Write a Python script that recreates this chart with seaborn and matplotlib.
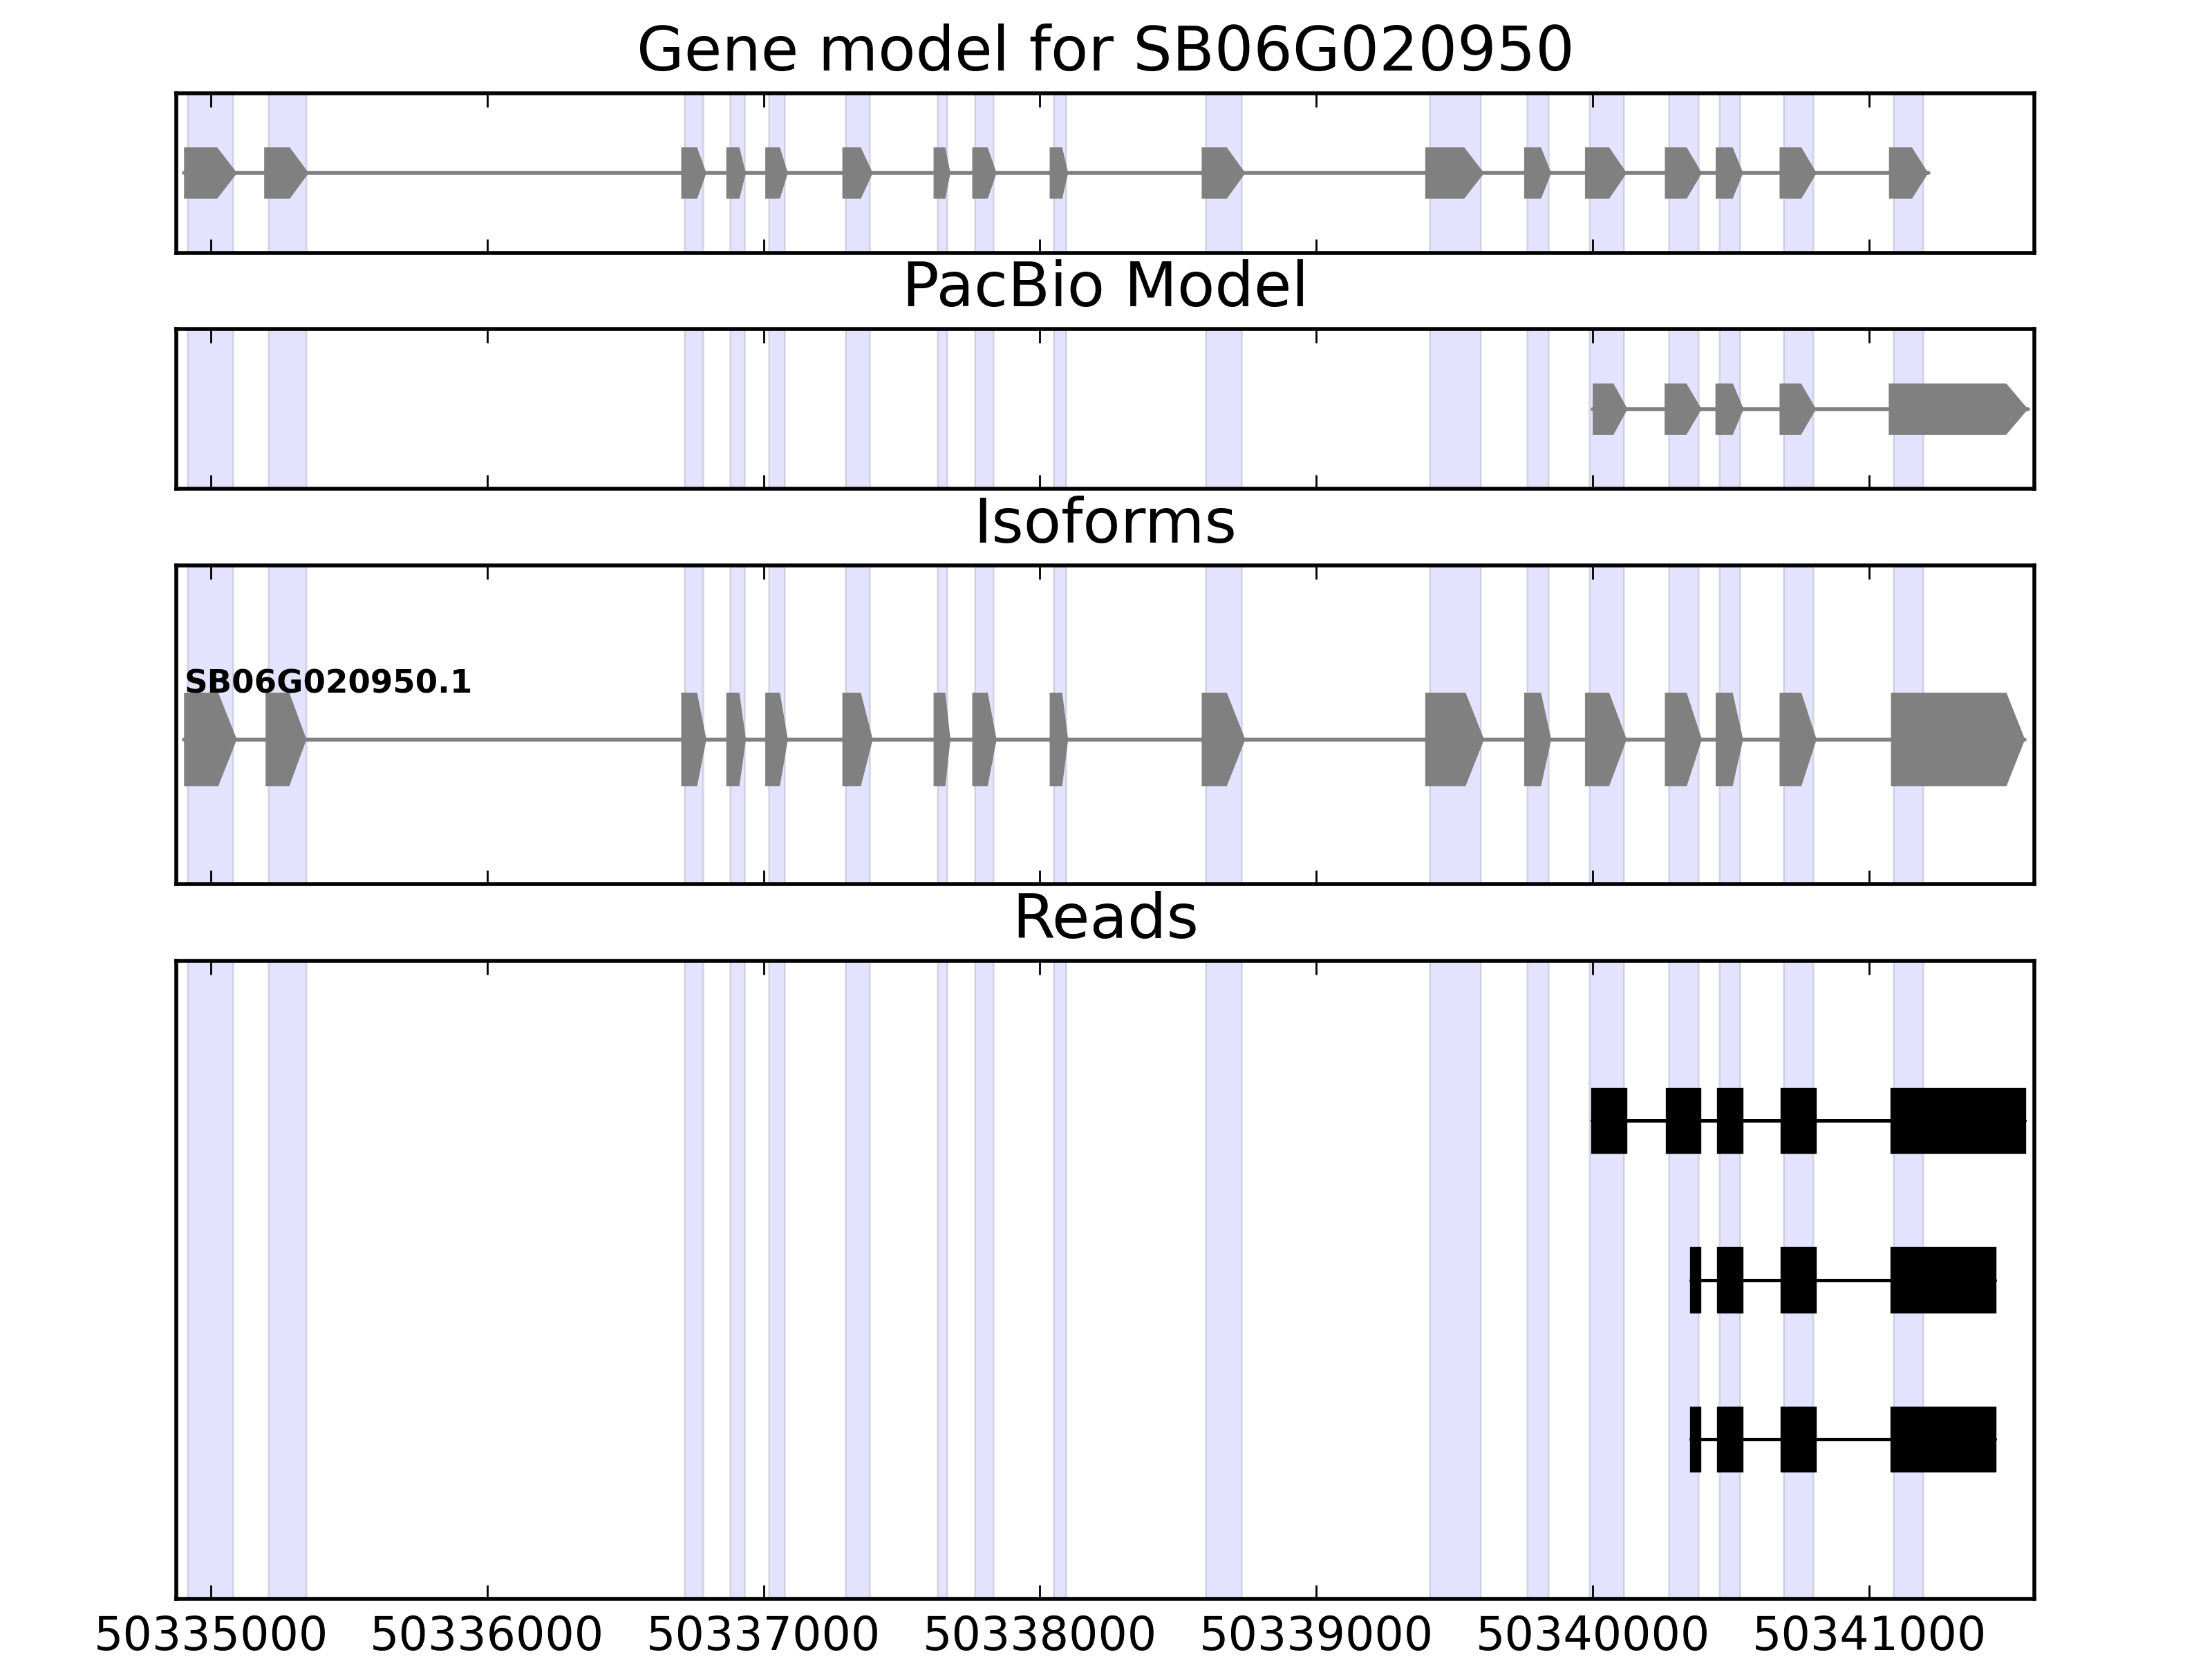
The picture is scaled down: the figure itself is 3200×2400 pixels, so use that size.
import matplotlib
matplotlib.use("Agg")
import matplotlib.pyplot as plt
import seaborn as sns
from matplotlib.patches import Polygon, Rectangle
from matplotlib.ticker import ScalarFormatter

# ------------------------------------------------------------------
# data (genomic coordinates, bp)
# ------------------------------------------------------------------
GENE_ID = "SB06G020950"
ISOFORM_ID = "SB06G020950.1"

GENE_EXON_STARTS = [50334903, 50335193, 50336702, 50336865, 50337006, 50337285,
                    50337615, 50337755, 50338035, 50338585, 50339394, 50339752,
                    50339972, 50340261, 50340445, 50340676, 50341072]
GENE_EXON_ENDS = [50335095, 50335354, 50336793, 50336936, 50337088, 50337395,
                  50337676, 50337843, 50338102, 50338743, 50339607, 50339850,
                  50340123, 50340395, 50340544, 50340810, 50341214]

PACBIO_EXON_STARTS = [50340000, 50340260, 50340444, 50340676, 50341071]
PACBIO_EXON_ENDS = [50340126, 50340394, 50340546, 50340808, 50341575]

ISO_EXON_STARTS = [50334903, 50335198, 50336702, 50336865, 50337006, 50337285,
                   50337615, 50337755, 50338035, 50338585, 50339394, 50339752,
                   50339972, 50340261, 50340445, 50340676, 50341079]
ISO_EXON_ENDS = [50335094, 50335346, 50336793, 50336936, 50337088, 50337395,
                 50337676, 50337843, 50338102, 50338743, 50339607, 50339850,
                 50340123, 50340395, 50340544, 50340810, 50341564]

# shaded exon regions drawn across every panel
HIGHLIGHT_STARTS = [50334914, 50335207, 50336714, 50336878, 50337018, 50337295,
                    50337628, 50337763, 50338050, 50338600, 50339410, 50339763,
                    50339988, 50340275, 50340458, 50340690, 50341088]
HIGHLIGHT_ENDS = [50335081, 50335344, 50336780, 50336930, 50337075, 50337383,
                  50337663, 50337830, 50338093, 50338728, 50339595, 50339840,
                  50340113, 50340383, 50340533, 50340798, 50341195]

READ1_STARTS = [50339998, 50340267, 50340453, 50340683, 50341081]
READ1_ENDS = [50340120, 50340388, 50340541, 50340804, 50341563]
READ2_STARTS = [50340354, 50340453, 50340683, 50341081]
READ2_ENDS = [50340388, 50340541, 50340804, 50341455]
READ3_STARTS = [50340354, 50340453, 50340683, 50341081]
READ3_ENDS = [50340388, 50340541, 50340804, 50341455]
READ_ROWS = [1, 2, 3]

X_TICKS = [50335000, 50336000, 50337000, 50338000, 50339000, 50340000, 50341000]
X_LIM = (50334875, 50341598)

TITLES = ["Gene model for " + GENE_ID, "PacBio Model", "Isoforms", "Reads"]

# ------------------------------------------------------------------
# style
# ------------------------------------------------------------------
sns.set_theme(style="white", rc={
    "axes.edgecolor": "black",
    "axes.linewidth": 1.0,
    "text.color": "black",
    "axes.labelcolor": "black",
    "axes.titlecolor": "black",
    "xtick.direction": "in",
    "xtick.major.size": 3.6,
    "xtick.major.width": 0.5,
    "xtick.color": "black",
    "xtick.labelcolor": "black",
})
plt.rcParams["font.family"] = ["DejaVu Sans"]

EXON_GREY = "#808080"


def draw_arrow_exons(ax, starts, ends, yc, half_h, tip_cap):
    """灰色の矢印型エクソンとイントロン線を描く"""
    sns.lineplot(x=[starts[0], ends[-1]], y=[yc, yc], ax=ax, color=EXON_GREY,
                 lw=1.0, estimator=None, legend=False, zorder=2)
    for s, e in zip(starts, ends):
        tip = max(min(0.5 * (e - s) - 12, tip_cap), 5)
        verts = [(s, yc - half_h), (e - tip, yc - half_h), (e, yc),
                 (e - tip, yc + half_h), (s, yc + half_h)]
        ax.add_patch(Polygon(verts, closed=True, facecolor=EXON_GREY,
                             edgecolor="none", zorder=3))


def draw_read(ax, starts, ends, yc, height=0.4):
    sns.lineplot(x=[starts[0], ends[-1]], y=[yc, yc], ax=ax, color="black",
                 lw=0.9, estimator=None, legend=False, zorder=2)
    for s, e in zip(starts, ends):
        ax.add_patch(Rectangle((s, yc - height / 2), e - s, height,
                               facecolor="black", edgecolor="black",
                               lw=0.6, zorder=3))


fig = plt.figure(figsize=(8, 6), dpi=400)
gs = fig.add_gridspec(4, 1, height_ratios=[1, 1, 2, 4], left=0.0797,
                      right=0.9197, top=0.94375, bottom=0.03625, hspace=0.24)
axes = [fig.add_subplot(gs[i]) for i in range(4)]

for i, ax in enumerate(axes):
    for s, e in zip(HIGHLIGHT_STARTS, HIGHLIGHT_ENDS):
        ax.axvspan(s, e, facecolor="blue", edgecolor="black", alpha=0.11,
                   lw=0.5, zorder=0)
    ax.set_xlim(*X_LIM)
    ax.set_xticks(X_TICKS)
    fmt = ScalarFormatter(useOffset=False)
    fmt.set_scientific(False)
    ax.xaxis.set_major_formatter(fmt)
    ax.tick_params(axis="x", which="major", top=True, bottom=True,
                   labelbottom=(i == 3), labelsize=12, pad=4,
                   labelcolor="black")
    ax.set_yticks([])
    ax.set_xlabel("")
    ax.set_ylabel("")
    for sp in ax.spines.values():
        sp.set_visible(True)
        sp.set_color("black")
        sp.set_linewidth(1.0)
    ax.set_title(TITLES[i], fontsize=16, pad=6, color="black")

# gene model
axes[0].set_ylim(0, 1)
draw_arrow_exons(axes[0], GENE_EXON_STARTS, GENE_EXON_ENDS, 0.5, 0.161, 72)

# pacbio model
axes[1].set_ylim(0, 1)
draw_arrow_exons(axes[1], PACBIO_EXON_STARTS, PACBIO_EXON_ENDS, 0.5, 0.161, 79)

# isoforms
axes[2].set_ylim(0, 1)
draw_arrow_exons(axes[2], ISO_EXON_STARTS, ISO_EXON_ENDS, 0.4544, 0.1465, 67)
axes[2].text(ISO_EXON_STARTS[0], 0.601, ISOFORM_ID, fontsize=8.4,
             fontweight="bold", ha="left", va="baseline", color="black",
             zorder=4)

# reads
axes[3].set_ylim(4, 0)
for row, (st, en) in zip(READ_ROWS, [(READ1_STARTS, READ1_ENDS),
                                     (READ2_STARTS, READ2_ENDS),
                                     (READ3_STARTS, READ3_ENDS)]):
    draw_read(axes[3], st, en, row)

fig.savefig("out.png", dpi=400)
